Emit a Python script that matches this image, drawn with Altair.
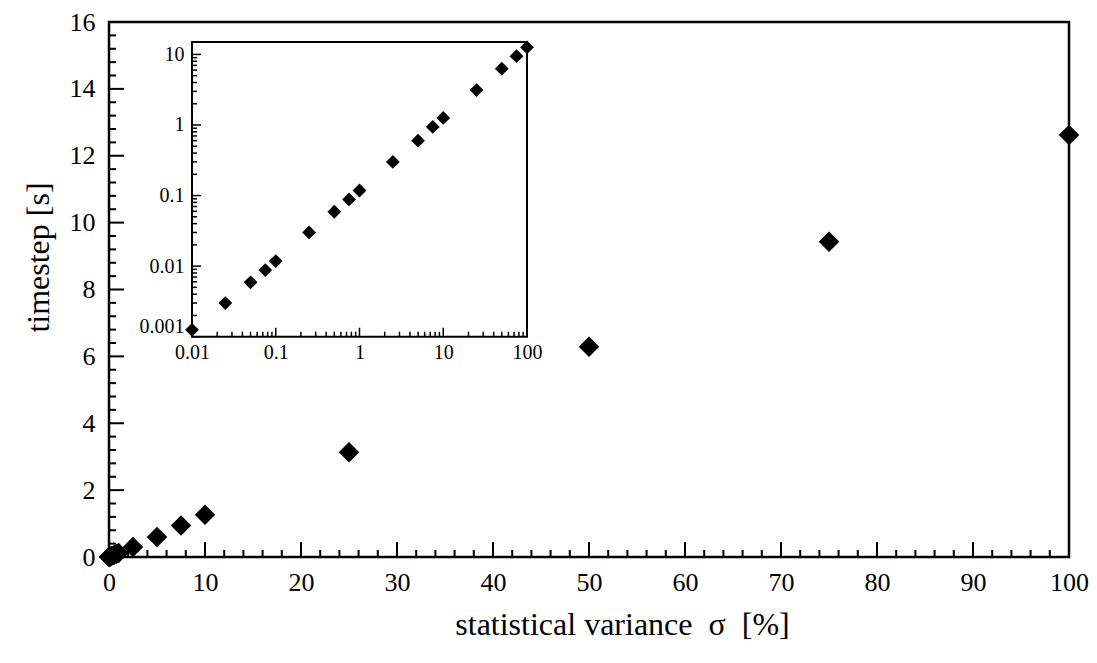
import altair as alt
import pandas as pd

# ---- data ----
SIGMA = [0.01, 0.025, 0.05, 0.075, 0.1, 0.25, 0.5, 0.75, 1, 2.5, 5, 7.5, 10, 25, 50, 75, 100]
TIMESTEP = [0.00125, 0.003, 0.0059, 0.0088, 0.0118, 0.030, 0.059, 0.088, 0.118,
            0.30, 0.60, 0.94, 1.26, 3.13, 6.29, 9.43, 12.62]

X_MAJOR = list(range(0, 101, 10))
X_MINOR = [v for v in range(0, 101, 2) if v % 10]
Y_MAJOR = list(range(0, 17, 2))
Y_MINOR = [round(0.4 * i, 1) for i in range(41) if i % 5]

INSET_X_MAJOR = [0.01, 0.1, 1, 10, 100]
INSET_Y_MAJOR = [0.001, 0.01, 0.1, 1, 10]
INSET_X_MINOR = [round(m * 10.0 ** e, 6) for e in range(-2, 2) for m in range(2, 10)]
INSET_Y_MINOR = [round(m * 10.0 ** e, 6) for e in range(-3, 2) for m in range(2, 10) if m * 10.0 ** e <= 15]

MAIN_X_DOMAIN = [0, 100]
MAIN_Y_DOMAIN = [0, 16]
INSET_X_DOMAIN = [0.01, 100]
INSET_Y_DOMAIN = [0.001, 15]

X_TITLE = "statistical variance\u00a0\u00a0σ\u00a0\u00a0[%]"
Y_TITLE = "timestep [s]"

# ---- layout ----
W, H = 960, 535
INSET_XR = [83, 418]
INSET_YR = [314.7, 20]
FONT = "Liberation Serif"

df = pd.DataFrame({"sigma": SIGMA, "timestep": TIMESTEP})
frame_df = pd.DataFrame({"x": [INSET_X_DOMAIN[0]], "x2": [INSET_X_DOMAIN[1]],
                         "y": [INSET_Y_DOMAIN[0]], "y2": [INSET_Y_DOMAIN[1]]})


def main_xs():
    return alt.Scale(domain=MAIN_X_DOMAIN, range=[0, W], nice=False, zero=False)


def main_ys():
    return alt.Scale(domain=MAIN_Y_DOMAIN, range=[H, 0], nice=False, zero=False)


def inset_xs():
    return alt.Scale(type="log", domain=INSET_X_DOMAIN, range=INSET_XR, nice=False)


def inset_ys():
    return alt.Scale(type="log", domain=INSET_Y_DOMAIN, range=INSET_YR, nice=False)


def x_ticks(values, scale, base, size, width):
    """inward-pointing ticks along a horizontal axis line at pixel row `base`"""
    return alt.Chart(pd.DataFrame({"v": values, "b": [base] * len(values)})).mark_rule(
        color="black", strokeWidth=width).encode(
        x=alt.X("v:Q", scale=scale, axis=None),
        y=alt.value(base), y2=alt.value(base - size))


def y_ticks(values, scale, base, size, width):
    """inward-pointing ticks along a vertical axis line at pixel column `base`"""
    return alt.Chart(pd.DataFrame({"v": values, "b": [base] * len(values)})).mark_rule(
        color="black", strokeWidth=width).encode(
        y=alt.Y("v:Q", scale=scale, axis=None),
        x=alt.value(base), x2=alt.value(base + size))


main_pts = alt.Chart(df).mark_point(shape="diamond", filled=True, color="black",
                                    size=420, opacity=1).encode(
    x=alt.X("sigma:Q", scale=main_xs(),
            axis=alt.Axis(orient="bottom", values=X_MAJOR, format="d", ticks=False,
                          domain=False, grid=False, labelFont=FONT, labelFontSize=26,
                          labelColor="black", labelPadding=12, labelFlush=False,
                          title=X_TITLE, titleFont=FONT, titleFontSize=32,
                          titleFontWeight="normal", titleColor="black",
                          titlePadding=14, titleX=513)),
    y=alt.Y("timestep:Q", scale=main_ys(),
            axis=alt.Axis(orient="left", values=Y_MAJOR, format="d", ticks=False,
                          domain=False, grid=False, labelFont=FONT, labelFontSize=26,
                          labelColor="black", labelPadding=14, labelFlush=False,
                          title=Y_TITLE, titleFont=FONT, titleFontSize=32,
                          titleFontWeight="normal", titleColor="black",
                          titlePadding=14, titleY=235)),
)

inset_frame = alt.Chart(frame_df).mark_rect(fill="white", stroke="black", strokeWidth=2).encode(
    x=alt.X("x:Q", scale=inset_xs(),
            axis=alt.Axis(orient="bottom", offset=-(H - INSET_YR[0]), values=INSET_X_MAJOR,
                          format="~g", ticks=False, domain=False, grid=False,
                          labelFont=FONT, labelFontSize=20, labelColor="black",
                          labelPadding=6, labelFlush=False, title=None)),
    x2="x2:Q",
    y=alt.Y("y:Q", scale=inset_ys(),
            axis=alt.Axis(orient="left", offset=-INSET_XR[0], values=INSET_Y_MAJOR,
                          format="~g", ticks=False, domain=False, grid=False,
                          labelFont=FONT, labelFontSize=20, labelColor="black",
                          labelPadding=8, labelFlush=True, title=None)),
    y2="y2:Q",
)

inset_pts = alt.Chart(df).mark_point(shape="diamond", filled=True, color="black",
                                     size=190, opacity=1).encode(
    x=alt.X("sigma:Q", scale=inset_xs(), axis=None),
    y=alt.Y("timestep:Q", scale=inset_ys(), axis=None),
)

chart = alt.layer(
    inset_frame,
    inset_pts,
    main_pts,
    x_ticks(X_MAJOR, main_xs(), H, 15, 2),
    x_ticks(X_MINOR, main_xs(), H, 7, 2),
    y_ticks(Y_MAJOR, main_ys(), 0, 15, 2),
    y_ticks(Y_MINOR, main_ys(), 0, 7, 2),
    x_ticks(INSET_X_MAJOR, inset_xs(), INSET_YR[0], 9, 1.5),
    x_ticks(INSET_X_MINOR, inset_xs(), INSET_YR[0], 5, 1.5),
    y_ticks(INSET_Y_MAJOR, inset_ys(), INSET_XR[0], 9, 1.5),
    y_ticks(INSET_Y_MINOR, inset_ys(), INSET_XR[0], 5, 1.5),
).resolve_scale(x="independent", y="independent").properties(
    width=W, height=H,
    autosize=alt.AutoSizeParams(type="none"),
    padding={"left": 101, "top": 14, "right": 20, "bottom": 86},
).configure_view(stroke="black", strokeWidth=2.5)

chart.save("out.html", embed_options={"renderer": "svg", "actions": False})
